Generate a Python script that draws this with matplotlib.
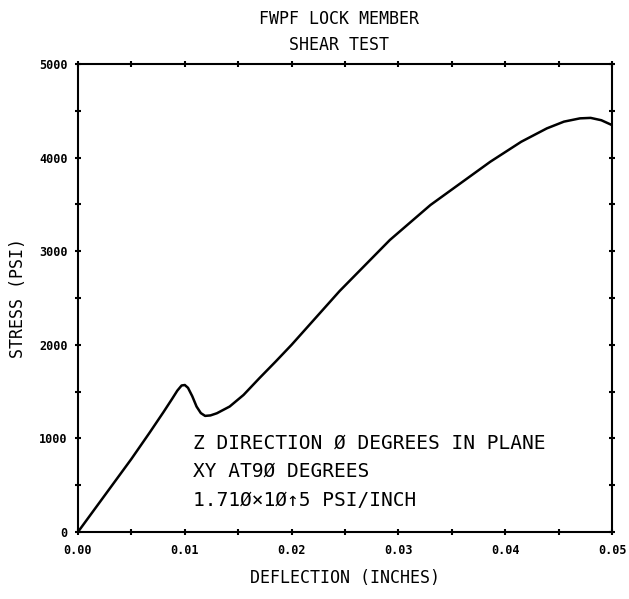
import matplotlib
matplotlib.use("Agg")
import matplotlib.pyplot as plt
from matplotlib.ticker import MultipleLocator

# curve (deflection in inches, stress in psi)
deflection = [0.0, 0.0025, 0.005, 0.0067, 0.0080, 0.0088, 0.0093, 0.0097, 0.0100,
              0.0103, 0.0107, 0.0111, 0.0115, 0.0119, 0.0124, 0.0130, 0.0142,
              0.0155, 0.0170, 0.0185, 0.0200, 0.0245, 0.0292, 0.0330, 0.0386,
              0.0415, 0.0439, 0.0455, 0.0470, 0.0480, 0.0490, 0.0500]
stress = [0, 390, 780, 1060, 1280, 1420, 1510, 1565, 1570,
          1540, 1450, 1340, 1270, 1240, 1245, 1268, 1340,
          1464, 1645, 1820, 2000, 2575, 3120, 3494, 3956,
          4170, 4313, 4385, 4420, 4425, 4400, 4348]

x_ticks = [0.0, 0.01, 0.02, 0.03, 0.04, 0.05]
x_labels = ["0.00", "0.01", "0.02", "0.03", "0.04", "0.05"]
y_ticks = [0, 1000, 2000, 3000, 4000, 5000]
y_labels = ["0", "1000", "2000", "3000", "4000", "5000"]

notes = ["Z DIRECTION Ø DEGREES IN PLANE",
         "XY AT9Ø DEGREES",
         "1.71Ø×1Ø↑5 PSI/INCH"]
note_y = [950, 650, 340]

mono = "DejaVu Sans Mono"

fig = plt.figure(figsize=(6.29, 5.99), dpi=100)
ax = fig.add_axes([0.124, 0.112, 0.849, 0.781])

ax.plot(deflection, stress, color="black", lw=1.8,
        solid_capstyle="round", solid_joinstyle="round")

ax.set_xlim(0, 0.05)
ax.set_ylim(0, 5000)
ax.set_xticks(x_ticks)
ax.set_xticklabels(x_labels, fontfamily=mono, fontweight="bold", fontsize=8.5)
ax.set_yticks(y_ticks)
ax.set_yticklabels(y_labels, fontfamily=mono, fontweight="bold", fontsize=8.5)
ax.xaxis.set_minor_locator(MultipleLocator(0.005))
ax.yaxis.set_minor_locator(MultipleLocator(500))
ax.tick_params(which="both", direction="inout", length=5, width=1.5,
               top=True, right=True, color="black")
ax.tick_params(axis="x", which="major", pad=6)
ax.tick_params(axis="y", which="major", pad=5)
for sp in ax.spines.values():
    sp.set_linewidth(1.5)

ax.set_xlabel("DEFLECTION (INCHES)", fontfamily=mono, fontsize=12, labelpad=9)
ax.set_ylabel("STRESS (PSI)", fontfamily=mono, fontsize=12, labelpad=9)

fig.text(0.539, 0.968, "FWPF LOCK MEMBER", fontfamily=mono, fontsize=12,
         ha="center", va="center")
fig.text(0.539, 0.925, "SHEAR TEST", fontfamily=mono, fontsize=12,
         ha="center", va="center")

for txt, yv in zip(notes, note_y):
    ax.text(0.0108, yv, txt, fontfamily=mono, fontsize=14, ha="left", va="center")

fig.savefig("out.png", dpi=100, facecolor="white")
